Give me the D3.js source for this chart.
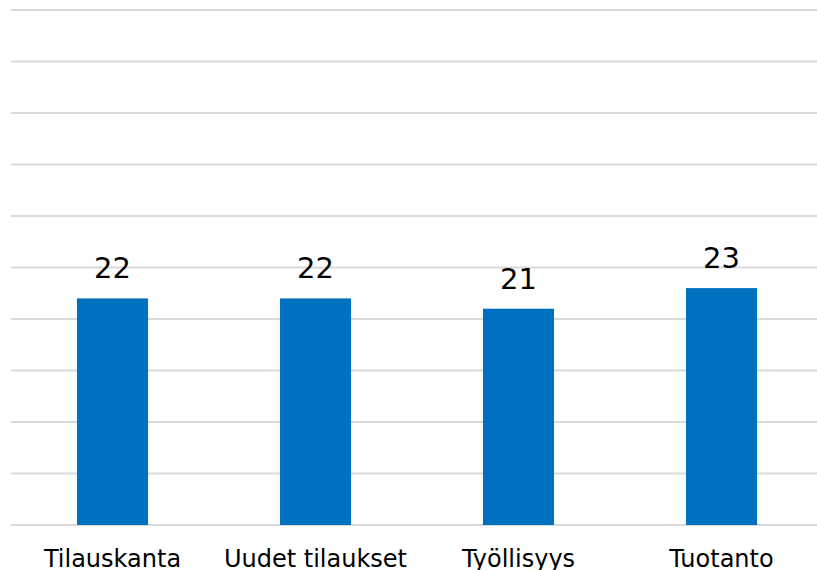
<!DOCTYPE html>
<html>
<head>
<meta charset="utf-8">
<script src="https://cdn.jsdelivr.net/npm/d3@7"></script>
<style>
  body { margin: 0; background: #fff; }
  svg { display: block; font-family: "DejaVu Sans", Verdana, sans-serif; }
</style>
</head>
<body>
<svg id="chart" width="817" height="570"></svg>
<script>
var categories = ['Tilauskanta', 'Uudet tilaukset', 'Työllisyys', 'Tuotanto'];
var values = [22, 22, 21, 23];
var yTicks = [0, 5, 10, 15, 20, 25, 30, 35, 40, 45, 50];

var svg = d3.select('#chart');

var x = d3.scaleBand()
  .domain(categories)
  .range([11, 823])
  .paddingInner(0.65)
  .paddingOuter(0.325);

var y = d3.scaleLinear()
  .domain([0, 50])
  .range([525, 10]);

// gridlines
svg.append('g')
  .selectAll('line')
  .data(yTicks)
  .enter().append('line')
  .attr('x1', 11)
  .attr('x2', 817)
  .attr('y1', function(d) { return y(d); })
  .attr('y2', function(d) { return y(d); })
  .attr('stroke', '#d9d9d9')
  .attr('stroke-width', 2);

// bars
svg.append('g')
  .selectAll('rect')
  .data(values)
  .enter().append('rect')
  .attr('x', function(d, i) { return x(categories[i]); })
  .attr('y', function(d) { return y(d); })
  .attr('width', x.bandwidth())
  .attr('height', function(d) { return y(0) - y(d); })
  .attr('fill', '#0070c0');

// value labels
svg.append('g')
  .selectAll('text')
  .data(values)
  .enter().append('text')
  .attr('x', function(d, i) { return x(categories[i]) + x.bandwidth() / 2; })
  .attr('y', function(d) { return y(d) - 20; })
  .attr('text-anchor', 'middle')
  .attr('font-size', 29)
  .attr('fill', '#000')
  .text(function(d) { return d; });

// category labels
svg.append('g')
  .selectAll('text')
  .data(categories)
  .enter().append('text')
  .attr('x', function(d) { return x(d) + x.bandwidth() / 2; })
  .attr('y', 567)
  .attr('text-anchor', 'middle')
  .attr('font-size', 24)
  .attr('fill', '#000')
  .text(function(d) { return d; });
</script>
</body>
</html>
